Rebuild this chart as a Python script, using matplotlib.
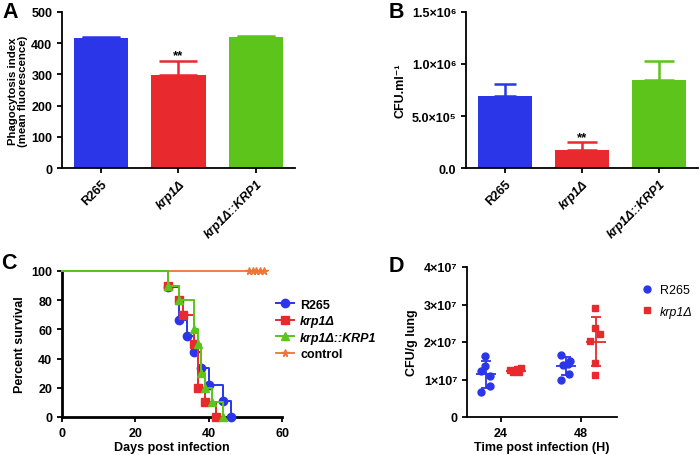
import numpy as np
import matplotlib.pyplot as plt

plt.rcParams['font.family'] = ['Liberation Sans', 'DejaVu Sans']
plt.rcParams['font.weight'] = 'bold'
plt.rcParams['axes.labelweight'] = 'bold'
plt.rcParams['axes.linewidth'] = 1.3
plt.rcParams['xtick.major.width'] = 1.3
plt.rcParams['ytick.major.width'] = 1.3
plt.rcParams['xtick.major.size'] = 3.5
plt.rcParams['ytick.major.size'] = 3.5
plt.rcParams['xtick.labelsize'] = 9
plt.rcParams['ytick.labelsize'] = 9
plt.rcParams['axes.labelsize'] = 9

# strains and colours
strains = ['R265', 'krp1Δ', 'krp1Δ::KRP1']
italic = [False, True, True]
colors = ['#2b36e8', '#e8292e', '#5dc41b']
control_color = '#ee7437'

# A: phagocytosis index (mean + upper error)
phago_mean = [417, 297, 421]
phago_err = [4, 47, 3]

# B: CFU per ml
cfu_mean = [6.9e5, 1.7e5, 8.5e5]
cfu_err = [1.2e5, 0.8e5, 1.8e5]

# C: survival (day of drop, percent after drop)
r265_days = [29, 32, 34, 36, 38, 40, 44, 46]
r265_surv = [88.9, 66.7, 55.6, 44.4, 33.3, 22.2, 11.1, 0]
krp1_days = [29, 32, 33, 36, 37, 39, 42]
krp1_surv = [90, 80, 70, 50, 20, 10, 0]
comp_days = [29, 32, 36, 37, 38, 39, 41, 44]
comp_surv = [90, 80, 60, 50, 30, 20, 10, 0]
control_censor = [51, 52, 53, 54, 55]

# D: lung burden (CFU/g)
lung_times = [24, 48]
r265_lung = [[1.62e7, 1.37e7, 1.22e7, 1.10e7, 0.835e7, 0.66e7],
             [1.65e7, 1.41e7, 1.50e7, 1.40e7, 1.15e7, 0.995e7]]
krp1_lung = [[1.25e7, 1.19e7, 1.22e7, 1.19e7, 1.30e7, 1.27e7],
             [2.90e7, 2.37e7, 2.21e7, 2.03e7, 1.43e7, 1.12e7]]

fig = plt.figure(figsize=(7, 4.56), dpi=100)


def style(ax):
    ax.spines['top'].set_visible(False)
    ax.spines['right'].set_visible(False)


def bar_panel(ax, means, errs, caps):
    x = np.arange(len(strains))
    ax.bar(x, means, width=0.7, color=colors)
    for i in range(len(x)):
        ax.errorbar(x[i], means[i], yerr=[[0], [errs[i]]], fmt='none',
                    ecolor=colors[i], elinewidth=1.8, capsize=caps[i], capthick=1.8)
    ax.set_xlim(-0.5, 2.5)
    ax.set_xticks(x)
    ax.set_xticklabels(strains, rotation=45, ha='right', rotation_mode='anchor')
    for lab, it in zip(ax.get_xticklabels(), italic):
        if it:
            lab.set_fontstyle('italic')
    style(ax)


# panel A
axA = fig.add_axes([62 / 700, 1 - 169 / 456, 233 / 700, 156 / 456])
bar_panel(axA, phago_mean, phago_err, [14, 14, 14])
axA.set_ylim(0, 500)
axA.set_yticks([0, 100, 200, 300, 400, 500])
axA.set_ylabel('Phagocytosis index\n(mean fluorescence)', fontsize=8.2,
               linespacing=1.05, labelpad=2)
axA.text(1, phago_mean[1] + phago_err[1] + 8, '**', ha='center', fontsize=9.5)

# panel B
axB = fig.add_axes([466 / 700, 1 - 169 / 456, 232 / 700, 156 / 456])
bar_panel(axB, cfu_mean, cfu_err, [8, 11, 11])
axB.set_ylim(0, 1.5e6)
axB.set_yticks([0, 5e5, 1e6, 1.5e6])
axB.set_yticklabels(['0.0', '5.0×10⁵', '1.0×10⁶', '1.5×10⁶'])
axB.set_ylabel('CFU.ml⁻¹')
axB.text(1, cfu_mean[1] + cfu_err[1] + 0.2e5, '**', ha='center', fontsize=9.5)

# panel C
axC = fig.add_axes([62 / 700, 1 - 418 / 456, 220 / 700, 146 / 456])
axC.plot([0, max(control_censor)], [100, 100], color=control_color, lw=1.3,
         zorder=2, clip_on=False)
axC.plot(control_censor, [100] * len(control_censor), ls='none', marker='*',
         color=control_color, ms=5.5, clip_on=False, zorder=2)
survival = [(r265_days, r265_surv, 'o'), (krp1_days, krp1_surv, 's'),
            (comp_days, comp_surv, '^')]
for (days, surv, mk), c, z in zip(survival, colors, [3, 4, 5]):
    xs = [0] + days
    ys = [100] + surv
    axC.step(xs, ys, where='post', color=c, lw=1.4, zorder=z, clip_on=False)
    axC.plot(days, surv, ls='none', marker=mk, color=c, ms=6, zorder=z,
             clip_on=False)
axC.set_xlim(0, 60)
axC.set_ylim(0, 100)
axC.set_xticks([0, 20, 40, 60])
axC.set_yticks([0, 20, 40, 60, 80, 100])
axC.set_xlabel('Days post infection', labelpad=1.5)
axC.set_ylabel('Percent survival')
axC.spines['left'].set_linewidth(2)
axC.spines['bottom'].set_linewidth(2)
style(axC)
handles = [plt.Line2D([], [], color=colors[0], marker='o', ms=6, lw=1.4),
           plt.Line2D([], [], color=colors[1], marker='s', ms=6, lw=1.4),
           plt.Line2D([], [], color=colors[2], marker='^', ms=6, lw=1.4),
           plt.Line2D([], [], color=control_color, marker='*', ms=5.5, lw=1.3)]
legC = axC.legend(handles, strains + ['control'], loc='center left',
                  bbox_to_anchor=(0.92, 0.6), frameon=False, fontsize=9,
                  handlelength=1.5, labelspacing=0.35, handletextpad=0.45)
for t, it in zip(legC.get_texts(), italic + [False]):
    if it:
        t.set_fontstyle('italic')

# panel D
axD = fig.add_axes([467 / 700, 1 - 418 / 456, 150 / 700, 150 / 456])
r265_jit = [[-0.15, -0.15, -1.45, 1.35, 1.27, -1.45],
            [-1.45, 0.55, 1.35, -0.75, 1.05, -1.45]]
krp1_jit = [[-1.8, -0.8, 0.0, 0.8, 1.5, 0.3],
            [-0.3, -0.3, 1.2, -1.6, -0.3, -0.3]]
offset = 4.5
for vals, jit, c, mk, sign in [(r265_lung, r265_jit, colors[0], 'o', -1),
                               (krp1_lung, krp1_jit, colors[1], 's', 1)]:
    for t, v, j in zip(lung_times, vals, jit):
        xc = t + sign * offset
        axD.plot(xc + np.array(j), v, ls='none', marker=mk, color=c, ms=5)
        m = np.mean(v)
        sd = np.std(v, ddof=1)
        axD.hlines(m, xc - 3, xc + 3, color=c, lw=1.3)
        axD.errorbar(xc, m, yerr=sd, fmt='none', ecolor=c, elinewidth=1.3,
                     capsize=3.8, capthick=1.3)
axD.set_xlim(13.8, 58.9)
axD.set_ylim(0, 4e7)
axD.set_xticks(lung_times)
axD.set_yticks([0, 1e7, 2e7, 3e7, 4e7])
axD.set_yticklabels(['0', '1×10⁷', '2×10⁷', '3×10⁷', '4×10⁷'])
axD.set_xlabel('Time post infection (H)', labelpad=1.5)
axD.set_ylabel('CFU/g lung')
style(axD)
hD = [plt.Line2D([], [], ls='none', color=colors[0], marker='o', ms=5),
      plt.Line2D([], [], ls='none', color=colors[1], marker='s', ms=5)]
legD = axD.legend(hD, strains[:2], loc='upper left', bbox_to_anchor=(1.08, 0.96),
                  frameon=False, fontsize=9, handlelength=1.0,
                  handletextpad=0.6, labelspacing=0.75)
for t, it in zip(legD.get_texts(), [False, True]):
    t.set_fontweight('normal')
    if it:
        t.set_fontstyle('italic')

# panel letters
for lbl, x, y in [('A', 2, 18), ('B', 389, 18), ('C', 1, 269), ('D', 389, 272)]:
    fig.text(x / 700, 1 - y / 456, lbl, fontsize=15.5, fontweight='bold',
             va='baseline')

fig.savefig('out.png', dpi=100)
